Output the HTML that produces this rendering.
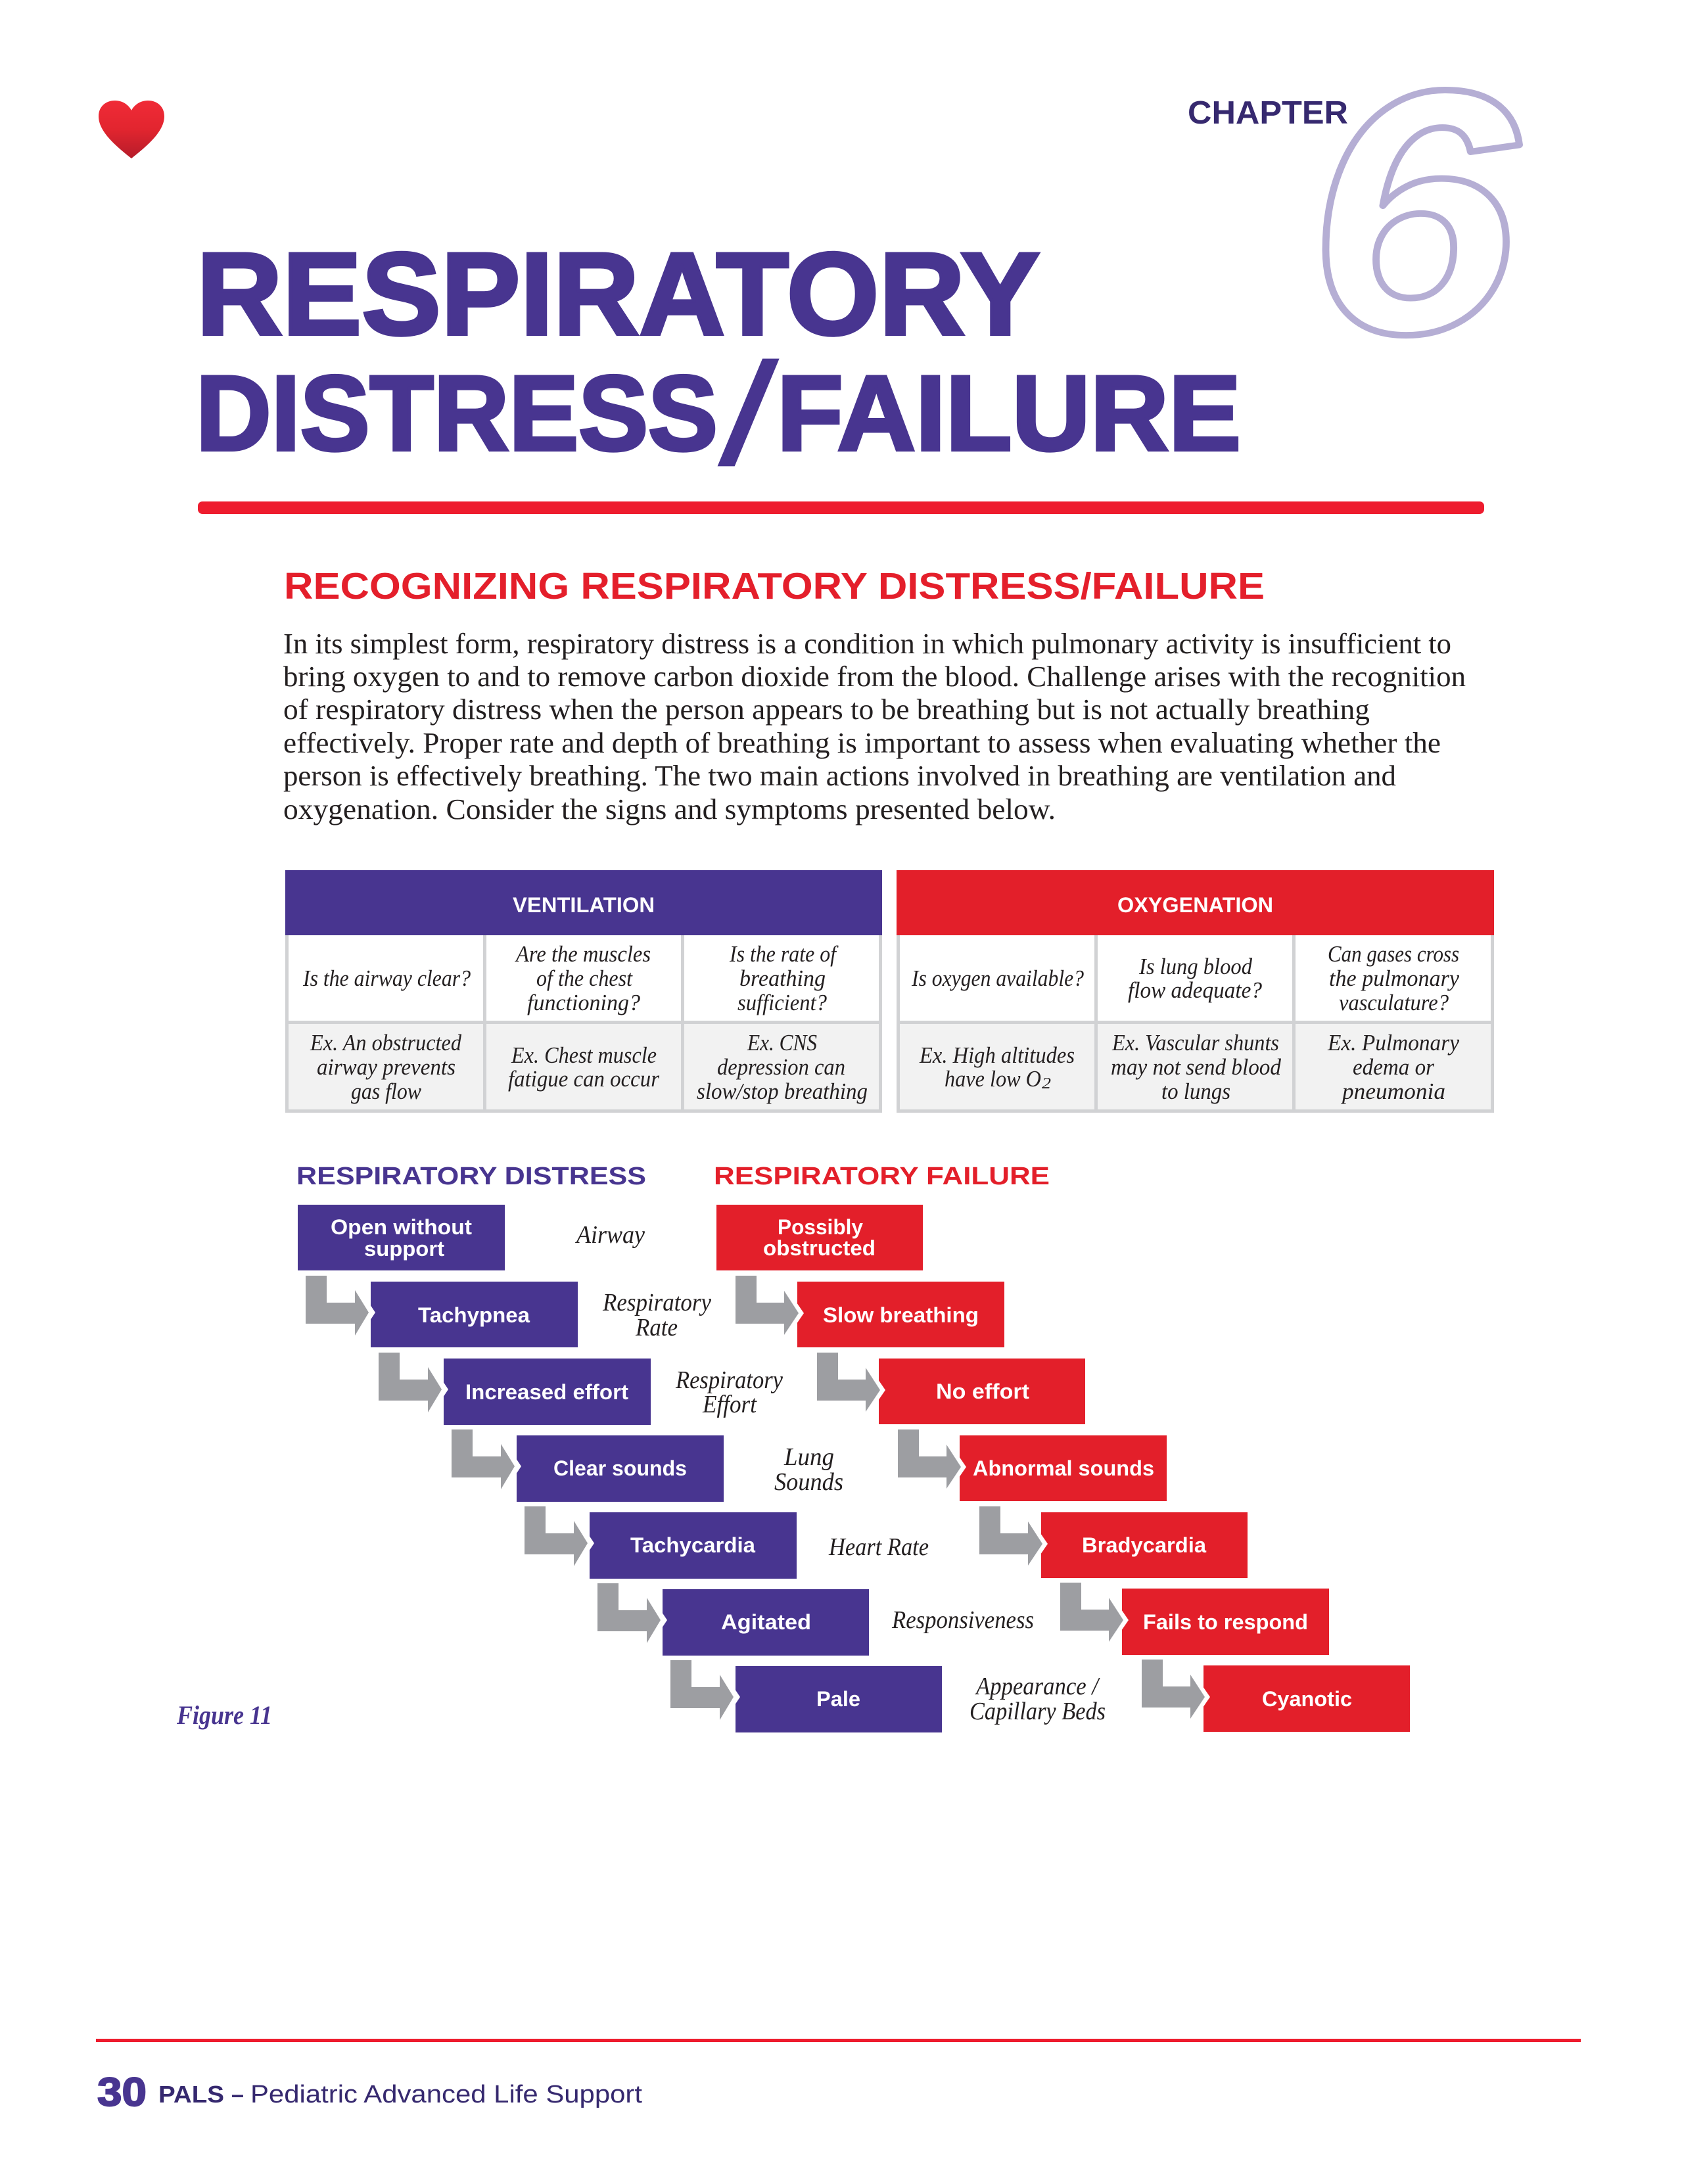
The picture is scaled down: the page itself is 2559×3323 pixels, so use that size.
<!DOCTYPE html>
<html lang="en">
<head>
<meta charset="utf-8">
<title>Respiratory Distress/Failure</title>
<style>
html,body{margin:0;padding:0;background:#fff;width:2559px;height:3323px;overflow:hidden}
svg{display:block}
.sb{font-family:"Liberation Sans",sans-serif;font-weight:700}
.sr{font-family:"Liberation Sans",sans-serif;font-weight:400}
.it{font-family:"Liberation Serif",serif;font-style:italic;fill:#231f20}
.body{font-family:"Liberation Serif",serif;font-size:44px;fill:#231f20}
.tb{font-size:35px}
.lb{font-size:38px}
.bx{font-family:"Liberation Sans",sans-serif;font-weight:700;font-size:32px;fill:#fff}
</style>
</head>
<body>
<svg xmlns="http://www.w3.org/2000/svg" width="2559" height="3323" viewBox="0 0 2559 3323">
<defs>
<linearGradient id="hg" x1="0" y1="0" x2="0" y2="1"><stop offset="0" stop-color="#f02b37"/><stop offset="0.5" stop-color="#e2252f"/><stop offset="1" stop-color="#b51c2a"/></linearGradient>
<polygon id="pa" points="-99,-9 -67,-9 -67,32 -24,32 -24,13 -3,47 -24,82 -24,64 -99,64" fill="#9d9ea2"/>
<polygon id="ra" points="-94,-9 -62,-9 -62,32 -20,32 -20,14 2,48 -20,81 -20,64 -94,64" fill="#9d9ea2"/>
<polygon id="pc" points="-1,35 7,47 -1,59" fill="#fff"/>
<polygon id="rc" points="-1,32 10,48 -1,64" fill="#fff"/>
</defs>
<rect width="2559" height="3323" fill="#fff"/>

<!-- heart -->
<path d="M200 241C176 222 150 200 150 177C150 162 161 153 175 153C187 153 196 160 200 168C204 160 213 153 225 153C239 153 250 162 250 177C250 200 224 222 200 241Z" fill="url(#hg)"/>

<!-- chapter -->
<text x="1990.5" y="505" font-family="'Liberation Sans',sans-serif" font-weight="700" font-style="italic" font-size="527" fill="none" stroke="#b5aed4" stroke-width="10" stroke-linejoin="round" textLength="318" lengthAdjust="spacingAndGlyphs">6</text>
<text class="sb" x="1807" y="188" font-size="49" fill="#36296f" textLength="244" lengthAdjust="spacingAndGlyphs">CHAPTER</text>

<!-- title -->
<text class="sb" x="299" y="508.5" font-size="178" fill="#483590" stroke="#483590" stroke-width="5" textLength="1283" lengthAdjust="spacingAndGlyphs">RESPIRATORY</text>
<text class="sb" x="298" y="684.5" font-size="162" fill="#483590" stroke="#483590" stroke-width="5" textLength="794" lengthAdjust="spacingAndGlyphs">DISTRESS</text>
<text class="sb" transform="translate(1121 705) skewX(-12.8)" x="0" y="0" font-size="220" fill="#483590" text-anchor="middle">/</text>
<text class="sb" x="1182" y="684.5" font-size="162" fill="#483590" stroke="#483590" stroke-width="5" textLength="706" lengthAdjust="spacingAndGlyphs">FAILURE</text>
<rect x="301" y="763" width="1957" height="19" rx="7" fill="#ee1c2e"/>

<!-- section -->
<text class="sb" x="432" y="911" font-size="57" fill="#e41f2b" textLength="1492" lengthAdjust="spacingAndGlyphs">RECOGNIZING RESPIRATORY DISTRESS/FAILURE</text>
<text class="body" x="431" y="994" textLength="1777" lengthAdjust="spacingAndGlyphs">In its simplest form, respiratory distress is a condition in which pulmonary activity is insufficient to</text>
<text class="body" x="431" y="1044" textLength="1799" lengthAdjust="spacingAndGlyphs">bring oxygen to and to remove carbon dioxide from the blood. Challenge arises with the recognition</text>
<text class="body" x="431" y="1094" textLength="1653" lengthAdjust="spacingAndGlyphs">of respiratory distress when the person appears to be breathing but is not actually breathing</text>
<text class="body" x="431" y="1145" textLength="1761" lengthAdjust="spacingAndGlyphs">effectively. Proper rate and depth of breathing is important to assess when evaluating whether the</text>
<text class="body" x="431" y="1195" textLength="1693" lengthAdjust="spacingAndGlyphs">person is effectively breathing. The two main actions involved in breathing are ventilation and</text>
<text class="body" x="431" y="1246" textLength="1175" lengthAdjust="spacingAndGlyphs">oxygenation. Consider the signs and symptoms presented below.</text>

<!-- ventilation table -->
<rect x="434" y="1324" width="908" height="369" fill="#d1d2d4"/>
<rect x="434" y="1324" width="908" height="99" fill="#483590"/>
<rect x="439" y="1423" width="296" height="130" fill="#fff"/>
<rect x="740" y="1423" width="296" height="130" fill="#fff"/>
<rect x="1041" y="1423" width="296" height="130" fill="#fff"/>
<rect x="439" y="1558" width="296" height="130" fill="#f2f2f2"/>
<rect x="740" y="1558" width="296" height="130" fill="#f2f2f2"/>
<rect x="1041" y="1558" width="296" height="130" fill="#f2f2f2"/>
<text class="sb" x="780" y="1388" font-size="32" fill="#fff" textLength="216" lengthAdjust="spacingAndGlyphs">VENTILATION</text>

<text class="it tb" x="461" y="1500" textLength="255" lengthAdjust="spacingAndGlyphs">Is the airway clear?</text>
<text class="it tb" x="785" y="1463" textLength="205" lengthAdjust="spacingAndGlyphs">Are the muscles</text>
<text class="it tb" x="816" y="1500" textLength="146" lengthAdjust="spacingAndGlyphs">of the chest</text>
<text class="it tb" x="802" y="1537" textLength="172" lengthAdjust="spacingAndGlyphs">functioning?</text>
<text class="it tb" x="1110" y="1463" textLength="162" lengthAdjust="spacingAndGlyphs">Is the rate of</text>
<text class="it tb" x="1125" y="1500" textLength="131" lengthAdjust="spacingAndGlyphs">breathing</text>
<text class="it tb" x="1122" y="1537" textLength="136" lengthAdjust="spacingAndGlyphs">sufficient?</text>
<text class="it tb" x="472" y="1598" textLength="230" lengthAdjust="spacingAndGlyphs">Ex. An obstructed</text>
<text class="it tb" x="482" y="1635" textLength="211" lengthAdjust="spacingAndGlyphs">airway prevents</text>
<text class="it tb" x="534" y="1672" textLength="107" lengthAdjust="spacingAndGlyphs">gas flow</text>
<text class="it tb" x="778" y="1617" textLength="221" lengthAdjust="spacingAndGlyphs">Ex. Chest muscle</text>
<text class="it tb" x="773" y="1653" textLength="230" lengthAdjust="spacingAndGlyphs">fatigue can occur</text>
<text class="it tb" x="1137" y="1598" textLength="106" lengthAdjust="spacingAndGlyphs">Ex. CNS</text>
<text class="it tb" x="1091" y="1635" textLength="195" lengthAdjust="spacingAndGlyphs">depression can</text>
<text class="it tb" x="1060" y="1672" textLength="260" lengthAdjust="spacingAndGlyphs">slow/stop breathing</text>

<!-- oxygenation table -->
<rect x="1364" y="1324" width="909" height="369" fill="#d1d2d4"/>
<rect x="1364" y="1324" width="909" height="99" fill="#e31f2a"/>
<rect x="1369" y="1423" width="296" height="130" fill="#fff"/>
<rect x="1670" y="1423" width="296" height="130" fill="#fff"/>
<rect x="1971" y="1423" width="297" height="130" fill="#fff"/>
<rect x="1369" y="1558" width="296" height="130" fill="#f2f2f2"/>
<rect x="1670" y="1558" width="296" height="130" fill="#f2f2f2"/>
<rect x="1971" y="1558" width="297" height="130" fill="#f2f2f2"/>
<text class="sb" x="1700" y="1388" font-size="32" fill="#fff" textLength="237" lengthAdjust="spacingAndGlyphs">OXYGENATION</text>

<text class="it tb" x="1387" y="1500" textLength="262" lengthAdjust="spacingAndGlyphs">Is oxygen available?</text>
<text class="it tb" x="1733" y="1482" textLength="172" lengthAdjust="spacingAndGlyphs">Is lung blood</text>
<text class="it tb" x="1716" y="1518" textLength="204" lengthAdjust="spacingAndGlyphs">flow adequate?</text>
<text class="it tb" x="2020" y="1463" textLength="200" lengthAdjust="spacingAndGlyphs">Can gases cross</text>
<text class="it tb" x="2022" y="1500" textLength="198" lengthAdjust="spacingAndGlyphs">the pulmonary</text>
<text class="it tb" x="2037" y="1537" textLength="167" lengthAdjust="spacingAndGlyphs">vasculature?</text>
<text class="it tb" x="1399" y="1617" textLength="236" lengthAdjust="spacingAndGlyphs">Ex. High altitudes</text>
<text class="it tb" x="1437" y="1653" textLength="147" lengthAdjust="spacingAndGlyphs">have low O</text>
<text class="it" x="1585" y="1656" font-size="24" textLength="14" lengthAdjust="spacingAndGlyphs">2</text>
<text class="it tb" x="1692" y="1598" textLength="254" lengthAdjust="spacingAndGlyphs">Ex. Vascular shunts</text>
<text class="it tb" x="1690" y="1635" textLength="259" lengthAdjust="spacingAndGlyphs">may not send blood</text>
<text class="it tb" x="1767" y="1672" textLength="105" lengthAdjust="spacingAndGlyphs">to lungs</text>
<text class="it tb" x="2020" y="1598" textLength="200" lengthAdjust="spacingAndGlyphs">Ex. Pulmonary</text>
<text class="it tb" x="2058" y="1635" textLength="124" lengthAdjust="spacingAndGlyphs">edema or</text>
<text class="it tb" x="2042" y="1672" textLength="157" lengthAdjust="spacingAndGlyphs">pneumonia</text>

<!-- flow headings -->
<text class="sb" x="451" y="1802" font-size="38" fill="#483590" textLength="532" lengthAdjust="spacingAndGlyphs">RESPIRATORY DISTRESS</text>
<text class="sb" x="1086" y="1802" font-size="38" fill="#e31f2a" textLength="511" lengthAdjust="spacingAndGlyphs">RESPIRATORY FAILURE</text>

<!-- purple boxes -->
<g fill="#483590">
<rect x="453" y="1833" width="315" height="100"/>
<rect x="564" y="1950" width="315" height="100"/>
<rect x="675" y="2067" width="315" height="101"/>
<rect x="786" y="2184" width="315" height="101"/>
<rect x="897" y="2301" width="315" height="101"/>
<rect x="1008" y="2418" width="314" height="101"/>
<rect x="1119" y="2535" width="314" height="101"/>
</g>
<!-- red boxes -->
<g fill="#e31f2a">
<rect x="1090" y="1833" width="314" height="100"/>
<rect x="1213" y="1950" width="315" height="100"/>
<rect x="1337" y="2067" width="314" height="100"/>
<rect x="1460" y="2184" width="315" height="100"/>
<rect x="1584" y="2301" width="314" height="100"/>
<rect x="1707" y="2417" width="315" height="101"/>
<rect x="1831" y="2534" width="314" height="101"/>
</g>

<!-- chevrons and arrows -->
<use href="#pc" x="564" y="1950"/><use href="#pa" x="564" y="1950"/>
<use href="#pc" x="675" y="2067"/><use href="#pa" x="675" y="2067"/>
<use href="#pc" x="786" y="2184"/><use href="#pa" x="786" y="2184"/>
<use href="#pc" x="897" y="2301"/><use href="#pa" x="897" y="2301"/>
<use href="#pc" x="1008" y="2418"/><use href="#pa" x="1008" y="2418"/>
<use href="#pc" x="1119" y="2535"/><use href="#pa" x="1119" y="2535"/>
<use href="#rc" x="1213" y="1950"/><use href="#ra" x="1213" y="1950"/>
<use href="#rc" x="1337" y="2067"/><use href="#ra" x="1337" y="2067"/>
<use href="#rc" x="1460" y="2184"/><use href="#ra" x="1460" y="2184"/>
<use href="#rc" x="1584" y="2301"/><use href="#ra" x="1584" y="2301"/>
<use href="#rc" x="1707" y="2417"/><use href="#ra" x="1707" y="2417"/>
<use href="#rc" x="1831" y="2534"/><use href="#ra" x="1831" y="2534"/>

<!-- box labels -->
<text class="bx" x="503" y="1878" textLength="215" lengthAdjust="spacingAndGlyphs">Open without</text>
<text class="bx" x="554" y="1911" textLength="122" lengthAdjust="spacingAndGlyphs">support</text>
<text class="bx" x="636" y="2012" textLength="170" lengthAdjust="spacingAndGlyphs">Tachypnea</text>
<text class="bx" x="708" y="2129" textLength="248" lengthAdjust="spacingAndGlyphs">Increased effort</text>
<text class="bx" x="842" y="2245" textLength="203" lengthAdjust="spacingAndGlyphs">Clear sounds</text>
<text class="bx" x="959" y="2362" textLength="190" lengthAdjust="spacingAndGlyphs">Tachycardia</text>
<text class="bx" x="1097" y="2479" textLength="137" lengthAdjust="spacingAndGlyphs">Agitated</text>
<text class="bx" x="1242" y="2596" textLength="67" lengthAdjust="spacingAndGlyphs">Pale</text>

<text class="bx" x="1183" y="1878" textLength="130" lengthAdjust="spacingAndGlyphs">Possibly</text>
<text class="bx" x="1161" y="1910" textLength="171" lengthAdjust="spacingAndGlyphs">obstructed</text>
<text class="bx" x="1252" y="2012" textLength="237" lengthAdjust="spacingAndGlyphs">Slow breathing</text>
<text class="bx" x="1424" y="2128" textLength="142" lengthAdjust="spacingAndGlyphs">No effort</text>
<text class="bx" x="1480" y="2245" textLength="276" lengthAdjust="spacingAndGlyphs">Abnormal sounds</text>
<text class="bx" x="1646" y="2362" textLength="189" lengthAdjust="spacingAndGlyphs">Bradycardia</text>
<text class="bx" x="1739" y="2479" textLength="251" lengthAdjust="spacingAndGlyphs">Fails to respond</text>
<text class="bx" x="1920" y="2596" textLength="137" lengthAdjust="spacingAndGlyphs">Cyanotic</text>

<!-- middle labels -->
<text class="it lb" x="877" y="1891" textLength="104" lengthAdjust="spacingAndGlyphs">Airway</text>
<text class="it lb" x="917" y="1994" textLength="165" lengthAdjust="spacingAndGlyphs">Respiratory</text>
<text class="it lb" x="967" y="2032" textLength="64" lengthAdjust="spacingAndGlyphs">Rate</text>
<text class="it lb" x="1028" y="2112" textLength="163" lengthAdjust="spacingAndGlyphs">Respiratory</text>
<text class="it lb" x="1069" y="2149" textLength="82" lengthAdjust="spacingAndGlyphs">Effort</text>
<text class="it lb" x="1193" y="2229" textLength="76" lengthAdjust="spacingAndGlyphs">Lung</text>
<text class="it lb" x="1178" y="2267" textLength="105" lengthAdjust="spacingAndGlyphs">Sounds</text>
<text class="it lb" x="1261" y="2366" textLength="152" lengthAdjust="spacingAndGlyphs">Heart Rate</text>
<text class="it lb" x="1357" y="2477" textLength="216" lengthAdjust="spacingAndGlyphs">Responsiveness</text>
<text class="it lb" x="1485" y="2578" textLength="186" lengthAdjust="spacingAndGlyphs">Appearance /</text>
<text class="it lb" x="1475" y="2616" textLength="207" lengthAdjust="spacingAndGlyphs">Capillary Beds</text>

<text x="269" y="2623" font-family="'Liberation Serif',serif" font-weight="700" font-style="italic" font-size="40" fill="#483590" textLength="145" lengthAdjust="spacingAndGlyphs">Figure 11</text>

<!-- footer -->
<rect x="146" y="3102" width="2259" height="5" fill="#ee1c2e"/>
<text class="sb" x="148" y="3204" font-size="61" fill="#483590" stroke="#483590" stroke-width="2" textLength="75" lengthAdjust="spacingAndGlyphs">30</text>
<text class="sb" x="241" y="3199" font-size="36" fill="#36296f" textLength="100" lengthAdjust="spacingAndGlyphs">PALS</text>
<text class="sb" x="352" y="3199" font-size="36" fill="#36296f" textLength="19" lengthAdjust="spacingAndGlyphs">–</text>
<text class="sr" x="381" y="3199" font-size="38" fill="#36296f" textLength="596" lengthAdjust="spacingAndGlyphs">Pediatric Advanced Life Support</text>
</svg>
</body>
</html>
